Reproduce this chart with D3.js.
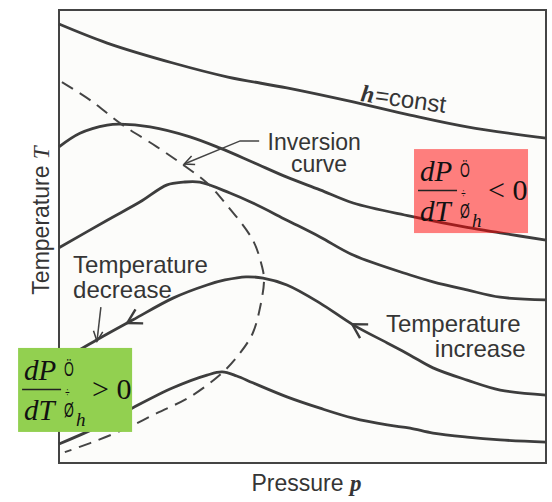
<!DOCTYPE html>
<html>
<head>
<meta charset="utf-8">
<script src="https://cdn.jsdelivr.net/npm/d3@7"></script>
<style>
  body { margin: 0; background: #fff; }
  .lbl { font-family: "Liberation Sans", Arial, sans-serif; font-size: 23px; fill: #353535; }
  .math { font-family: "Liberation Serif", "Times New Roman", serif; fill: #111; }
</style>
</head>
<body>
<script>
// isenthalps (h = const), pressure p vs temperature T, arbitrary units 0-100
const isenthalp1 = [[0,96.9],[9.9,92.7],[23.4,88.3],[34.7,85.2],[46.8,82.8],[60.4,79.7],[72.1,76.8],[83.8,74.2],[100,71.7]];
const isenthalp2 = [[0,69.8],[4.3,72.8],[9.9,74.6],[12.5,74.8],[18.7,74.2],[26.9,72.0],[33.1,69.5],[39.8,66.4],[46.8,63.1],[53.6,60.3],[60.4,57.4],[72.1,54.5],[83.8,52.0],[90.6,50.8],[100,49.2]];
const isenthalp3 = [[0,47.5],[9.9,53.6],[16.6,57.6],[22.2,61.4],[25.5,62.0],[28.9,62.0],[35.1,59.6],[39.8,57.4],[46.8,53.6],[53.6,49.9],[60.4,45.9],[72.1,41.5],[76.8,40.0],[83.8,38.2],[90.6,36.6],[100,36.0]];
const isenthalp4 = [[0,22.3],[7.8,27.2],[15.2,31.6],[23.4,36.4],[30.4,39.3],[34.1,40.4],[38.4,41.1],[41.9,40.8],[46.8,39.3],[53.6,35.3],[60.4,30.5],[67.4,26.5],[72.1,23.8],[76.8,21.0],[83.8,18.3],[90.6,16.1],[100,15.0]];
const isenthalp5 = [[0,4.2],[7.4,7.7],[15.0,12.1],[23.4,16.6],[30.4,19.4],[33.5,20.1],[36.5,19.2],[39.8,17.7],[46.8,14.6],[53.6,12.1],[60.4,9.9],[67.4,8.4],[72.1,7.7],[76.8,6.6],[83.8,5.7],[90.6,5.1],[100,4.6]];
const inversionCurve = [[0.6,84.1],[6.4,80.1],[13.1,74.6],[20.1,69.8],[25.5,65.8],[30.4,61.8],[34.1,57.4],[39.8,49.2],[41.7,43.3],[42.1,40.4],[41.3,34.4],[39.8,28.7],[37.2,24.3],[33.5,19.9],[26.9,14.6],[20.1,11.0],[13.1,7.3],[6.4,4.4],[1.2,2.4]];
// flow arrows on the 4th isenthalp (pressure where they sit)
const flowArrowsAt = [60.2, 14.0];

const width = 552, height = 502;

const x = d3.scaleLinear().domain([0, 100]).range([59, 546]);
const y = d3.scaleLinear().domain([0, 100]).range([463, 10]);

const svg = d3.select("body").append("svg")
    .attr("width", width)
    .attr("height", height)
    .attr("viewBox", [0, 0, width, height]);

const line = d3.line()
    .x(d => x(d[0]))
    .y(d => y(d[1]))
    .curve(d3.curveCatmullRom.alpha(0.5));

// frame
svg.append("rect")
    .attr("x", x(0)).attr("y", y(100))
    .attr("width", x(100) - x(0)).attr("height", y(0) - y(100))
    .attr("fill", "#fcfcfa")
    .attr("stroke", "#444")
    .attr("stroke-width", 2);

const curves = svg.append("g")
  .selectAll("path")
  .data([isenthalp1, isenthalp2, isenthalp3, isenthalp4, isenthalp5])
  .join("path")
    .attr("d", line)
    .attr("fill", "none")
    .attr("stroke", "#3d3d3d")
    .attr("stroke-width", 2.8);

svg.append("path")
    .attr("d", line(inversionCurve))
    .attr("fill", "none")
    .attr("stroke", "#444")
    .attr("stroke-width", 2)
    .attr("stroke-dasharray", "13,8");

function chevron(vx, vy, angle, len = 14, spread = 30, w = 2.4) {
  const a1 = angle + spread * Math.PI / 180, a2 = angle - spread * Math.PI / 180;
  svg.append("path")
      .attr("d", `M${vx + len * Math.cos(a1)},${vy + len * Math.sin(a1)}L${vx},${vy}L${vx + len * Math.cos(a2)},${vy + len * Math.sin(a2)}`)
      .attr("fill", "none")
      .attr("stroke", "#3d3d3d")
      .attr("stroke-width", w);
}

// arrows along isenthalp 4, pointing towards lower pressure
const node4 = curves.nodes()[3];
const L = node4.getTotalLength();
flowArrowsAt.forEach(p => {
  const px = x(p);
  let lo = 0, hi = L;
  for (let i = 0; i < 40; i++) {
    const mid = (lo + hi) / 2;
    if (node4.getPointAtLength(mid).x < px) lo = mid; else hi = mid;
  }
  const pt = node4.getPointAtLength(lo);
  const ahead = node4.getPointAtLength(Math.min(L, lo + 3));
  const back = Math.atan2(ahead.y - pt.y, ahead.x - pt.x);
  chevron(pt.x, pt.y, back, 16, 30);
});

// leader lines for labels
function leader(points) {
  const pts = points.map(d => [x(d[0]), y(d[1])]);
  svg.append("path")
      .attr("d", d3.line()(pts))
      .attr("fill", "none")
      .attr("stroke", "#444")
      .attr("stroke-width", 1.5);
  const [ex, ey] = pts[pts.length - 1], [sx, sy] = pts[pts.length - 2];
  chevron(ex, ey, Math.atan2(sy - ey, sx - ex), 11, 25, 1.5);
}
leader([[41.1, 71.1], [37.2, 71.1], [25.7, 66.0]]);
leader([[8.6, 34.4], [7.8, 26.9]]);

// labels
const hLabel = svg.append("text")
    .attr("class", "lbl")
    .style("font-size", "24px")
    .attr("transform", `translate(${x(61.8)},${y(79.9)}) rotate(8)`);
hLabel.append("tspan")
    .style("font-family", "'Liberation Serif', serif")
    .style("font-style", "italic").style("font-weight", "bold")
    .text("h");
hLabel.append("tspan").attr("dx", 1).text("=const");

svg.append("text").attr("class", "lbl")
    .attr("x", x(52.4)).attr("y", y(69.1)).attr("text-anchor", "middle")
    .text("Inversion");
svg.append("text").attr("class", "lbl")
    .attr("x", x(53.4)).attr("y", y(64.2)).attr("text-anchor", "middle")
    .text("curve");

svg.append("text").attr("class", "lbl").style("font-size", "24px")
    .attr("x", x(2.9)).attr("y", y(41.9)).text("Temperature");
svg.append("text").attr("class", "lbl").style("font-size", "24px")
    .attr("x", x(2.9)).attr("y", y(36.4)).text("decrease");

svg.append("text").attr("class", "lbl").style("font-size", "24px")
    .attr("x", x(94.8)).attr("y", y(28.9)).attr("text-anchor", "end").text("Temperature");
svg.append("text").attr("class", "lbl").style("font-size", "24px")
    .attr("x", x(95.8)).attr("y", y(23.4)).attr("text-anchor", "end").text("increase");

// axis titles
const xTitle = svg.append("text").attr("class", "lbl")
    .attr("x", (x(0) + x(100)) / 2 + 4).attr("y", y(0) + 28)
    .attr("text-anchor", "middle");
xTitle.append("tspan").text("Pressure ");
xTitle.append("tspan")
    .style("font-family", "'Liberation Serif', serif")
    .style("font-style", "italic").style("font-weight", "bold")
    .text("p");

const yTitle = svg.append("text").attr("class", "lbl")
    .attr("transform", `translate(${x(0) - 10},${(y(0) + y(100)) / 2 - 16}) rotate(-90)`)
    .attr("text-anchor", "middle");
yTitle.append("tspan").text("Temperature ");
yTitle.append("tspan")
    .style("font-family", "'Liberation Serif', serif")
    .style("font-style", "italic")
    .text("T");

// (dP/dT)_h sign boxes
function signBox(p0, t0, fill, sign) {
  const g = svg.append("g").attr("transform", `translate(${x(p0)},${y(t0)})`);
  g.append("rect").attr("width", 114).attr("height", 84).attr("fill", fill);
  g.append("text").attr("class", "math").attr("x", 6).attr("y", 32)
      .style("font-size", "29px").style("font-style", "italic").text("dP");
  g.append("line").attr("x1", 4).attr("x2", 43).attr("y1", 41.5).attr("y2", 41.5)
      .attr("stroke", "#222").attr("stroke-width", 1.5);
  g.append("text").attr("class", "math").attr("x", 6).attr("y", 72)
      .style("font-size", "29px").style("font-style", "italic").text("dT");
  // broken bracket glyphs of the original equation, stacked
  const br = g.append("text").attr("class", "math")
      .attr("transform", "translate(46,0) scale(0.6,1)")
      .style("font-family", "'Liberation Sans', sans-serif").style("font-size", "21px");
  br.append("tspan").attr("x", 0).attr("y", 28).text("Ö");
  br.append("tspan").attr("x", 2).attr("y", 49).style("font-size", "13px").text("÷");
  br.append("tspan").attr("x", 0).attr("y", 69).text("Ø");
  g.append("text").attr("class", "math").attr("x", 58).attr("y", 78)
      .style("font-size", "19px").style("font-style", "italic").text("h");
  g.append("text").attr("class", "math").attr("x", 74).attr("y", 51)
      .style("font-size", "30px").text(sign + " 0");
}
signBox(72.9, 69.3, "rgba(255,0,0,0.5)", "<");
signBox(-8.4, 25.4, "#92d050", ">");
</script>
</body>
</html>
